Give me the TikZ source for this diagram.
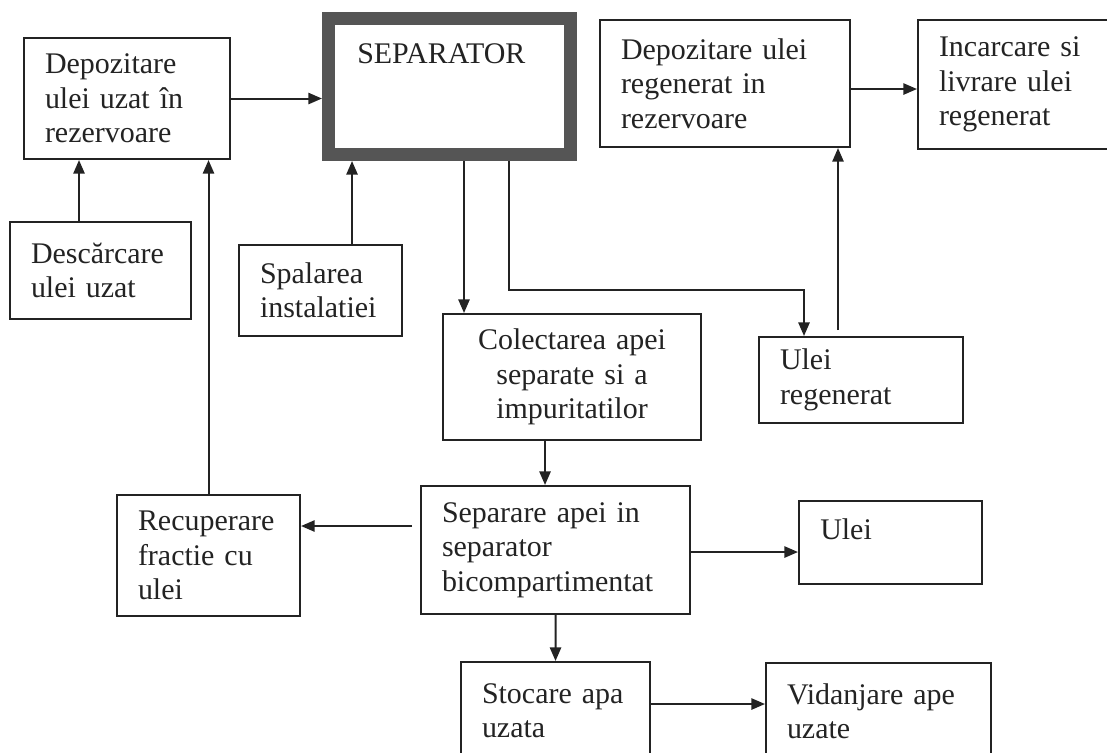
\documentclass[tikz,border=0pt]{standalone}
\usepackage{fontspec}
\setmainfont{Liberation Serif}
\usetikzlibrary{arrows.meta}
\definecolor{inkline}{RGB}{35,35,35}
\definecolor{sepgray}{RGB}{85,85,85}

\begin{document}
\begin{tikzpicture}[x=0.025cm, y=-0.025cm,
    blk/.style={draw=inkline, line width=0.05cm, anchor=north west, align=left, inner xsep=0.525cm, text=inkline, font=\fontsize{21.3}{24.5}\selectfont},
    lbl/.style={inner sep=0pt, anchor=base west, text=inkline, font=\fontsize{21.3}{24.5}\selectfont},
    arr/.style={draw=inkline, line width=0.05cm, -{Triangle[length=0.34cm, width=0.28cm]}}]
    \useasboundingbox (0,0) rectangle (1107,752);

    \node[draw=sepgray, line width=0.325cm, minimum width=6.05cm, minimum height=3.4cm] (Sep) at (449.5,86.5) {};
    \node[lbl] (SepLabel) at (357,63) {SEPARATOR};

    \node[blk, text width=4.1cm, minimum height=3.025cm] (DepUzat) at (23,37) {Depozitare\\ulei uzat în\\rezervoare};
    \node[blk, text width=3.475cm, minimum height=2.425cm] (Descarcare) at (9,221) {Descărcare\\ulei uzat};
    \node[blk, text width=3.025cm, minimum height=2.275cm] (Spalarea) at (238,244) {Spalarea\\instalatiei};
    \node[blk, text width=5.4cm, minimum height=3.15cm, align=center] (Colect) at (442,313) {Colectarea apei\\separate si a\\impuritatilor};
    \node[blk, text width=5.2cm, minimum height=3.175cm] (DepReg) at (599,19) {Depozitare ulei\\regenerat in\\rezervoare};
    \node[blk, text width=3.9cm, minimum height=3.225cm] (Incarcare) at (917,19) {Incarcare si\\livrare ulei\\regenerat};
    \node[blk, text width=4.05cm, minimum height=2.15cm] (UleiReg) at (758,336) {Ulei\\regenerat};
    \node[blk, text width=3.525cm, minimum height=3.025cm] (Recup) at (116,494) {Recuperare\\fractie cu\\ulei};
    \node[blk, text width=5.675cm, minimum height=3.2cm] (Separare) at (420,485) {Separare apei in\\separator\\bicompartimentat};
    \node[blk, minimum width=4.575cm, minimum height=2.075cm] (Ulei) at (798,500) {};
    \node[lbl] (UleiLabel) at (820,539) {Ulei};
    \node[blk, text width=3.675cm, minimum height=2.425cm] (Stocare) at (460,661) {Stocare apa\\uzata};
    \node[blk, text width=4.575cm, minimum height=2.4cm] (Vidanjare) at (765,662) {Vidanjare ape\\uzate};

    \coordinate (Kink) at (509,290);

    \draw[arr] (DepUzat) -- (DepUzat -| Sep.west);
    \draw[arr] ([xshift=-0.5375cm]Descarcare.north) -- ([xshift=-0.5375cm]Descarcare.north |- DepUzat.south);
    \draw[arr] ([xshift=0.7875cm]Spalarea.north) -- ([xshift=0.7875cm]Spalarea.north |- Sep.south);
    \draw[arr] ([xshift=0.55cm]Colect.north west |- Sep.south) -- ([xshift=0.55cm]Colect.north west);
    \draw[arr] (Kink |- Sep.south) -- (Kink) -| ([xshift=1.15cm]UleiReg.north west);
    \draw[arr, shorten <=0.15cm] ([xshift=2cm]UleiReg.north west) -- ([xshift=2cm]UleiReg.north west |- DepReg.south);
    \draw[arr] ([yshift=-0.1375cm]DepReg.east) -- ([yshift=-0.1375cm]DepReg.east -| Incarcare.west);
    \draw[arr] ([xshift=3.125cm]Separare.north west |- Colect.south) -- ([xshift=3.125cm]Separare.north west);
    \draw[arr, shorten <=0.2cm] ([yshift=-1.025cm]Separare.north west) -- ([yshift=-1.025cm]Separare.north west -| Recup.east);
    \draw[arr] (Recup.north) -- (Recup.north |- DepUzat.south);
    \draw[arr] ([yshift=-0.05cm]Separare.east) -- ([yshift=-0.05cm]Separare.east -| Ulei.west);
    \draw[arr] (Separare.south) -- (Stocare.north);
    \draw[arr] ([yshift=0.1625cm]Stocare.east) -- ([yshift=0.1625cm]Stocare.east -| Vidanjare.west);
\end{tikzpicture}
\end{document}
